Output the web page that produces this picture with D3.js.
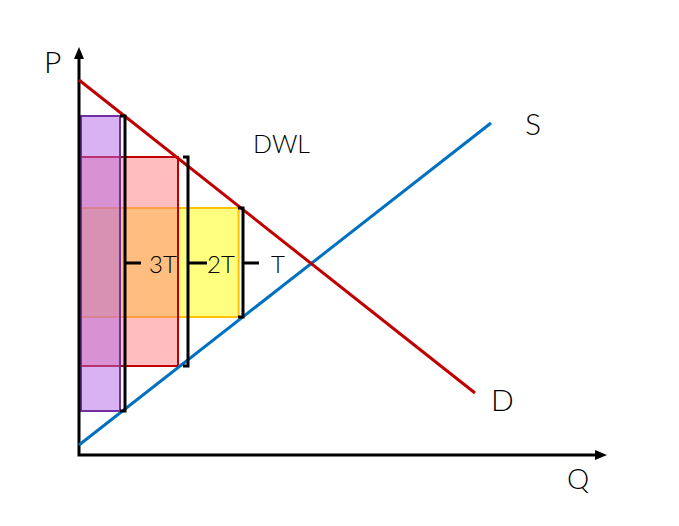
<!DOCTYPE html>
<html>
<head>
<meta charset="utf-8">
<script src="https://cdn.jsdelivr.net/npm/d3@7"></script>
<style>
  body { margin: 0; background: #fff; }
  text { font-family: Lato, 'Open Sans', sans-serif; font-weight: 300; fill: #000; }
</style>
</head>
<body>
<div id="chart"></div>
<script>
// supply and demand (P and Q in plain units)
const demandQ = [0, 9.9];
const demandP = [9.375, 1.55];
const supplyQ = [0, 10.3];
const supplyP = [0.25, 8.3];

// tax wedges, widest first so the narrow ones sit on top
const wedgeNames = ['T', '2T', '3T'];
const wedgeLeft = 0.05;
const wedgeRight = [3.99, 2.475, 1.025];
const wedgeTop = [6.175, 7.45, 8.475];
const wedgeBottom = [3.45, 2.225, 1.1];
const bracketQ = [4.1, 2.725, 1.15];
const tickEndQ = [4.5, 3.2, 1.55];
const labelQ = [4.8, 3.2, 1.75];
const tickP = 4.8;
const labelP = 4.55;

const axisTopP = 10.2;
const axisRightQ = 13.2;

const labels = [
  { text: 'P', q: -0.875, p: 9.55, size: 30 },
  { text: 'S', q: 11.15, p: 8.0, size: 30 },
  { text: 'D', q: 10.3, p: 1.1, size: 30 },
  { text: 'Q', q: 12.2, p: -0.85, size: 28 },
  { text: 'DWL', q: 4.35, p: 7.55, size: 25 },
];

const fills = ['#ffff00', '#ff7c80', '#b266e6'];
const strokes = ['#ffc000', '#c00000', '#7030a0'];

const width = 679;
const height = 526;

const x = d3.scaleLinear().domain([0, 1]).range([79, 119]);
const y = d3.scaleLinear().domain([0, 1]).range([455, 415]);

const svg = d3
  .select('#chart')
  .append('svg')
  .attr('width', width)
  .attr('height', height);

// rectangles
wedgeNames.forEach((name, i) => {
  svg
    .append('rect')
    .attr('x', x(wedgeLeft))
    .attr('y', y(wedgeTop[i]))
    .attr('width', x(wedgeRight[i]) - x(wedgeLeft))
    .attr('height', y(wedgeBottom[i]) - y(wedgeTop[i]))
    .attr('fill', fills[i])
    .attr('fill-opacity', 0.5)
    .attr('stroke', strokes[i])
    .attr('stroke-width', 2);
});

// axes
const arrowLen = 12;
const arrowHalf = 5;
svg
  .append('path')
  .attr('d', `M${x(0)},${y(axisTopP) + arrowLen} V${y(0)} H${x(axisRightQ) - arrowLen}`)
  .attr('fill', 'none')
  .attr('stroke', '#000')
  .attr('stroke-width', 3);

svg
  .append('path')
  .attr('d', `M${x(0)},${y(axisTopP)} L${x(0) - arrowHalf},${y(axisTopP) + arrowLen} L${x(0) + arrowHalf},${y(axisTopP) + arrowLen} Z`)
  .attr('fill', '#000');

svg
  .append('path')
  .attr('d', `M${x(axisRightQ)},${y(0)} L${x(axisRightQ) - arrowLen},${y(0) - arrowHalf} L${x(axisRightQ) - arrowLen},${y(0) + arrowHalf} Z`)
  .attr('fill', '#000');

// supply and demand
const line = d3
  .line()
  .x((d) => x(d[0]))
  .y((d) => y(d[1]));

svg
  .append('path')
  .datum(supplyQ.map((q, i) => [q, supplyP[i]]))
  .attr('fill', 'none')
  .attr('stroke', '#0070c0')
  .attr('stroke-width', 3)
  .attr('d', line);

svg
  .append('path')
  .datum(demandQ.map((q, i) => [q, demandP[i]]))
  .attr('fill', 'none')
  .attr('stroke', '#c00000')
  .attr('stroke-width', 3)
  .attr('d', line);

// brackets with their tax labels
const stub = 5;
wedgeNames.forEach((name, i) => {
  const bx = x(bracketQ[i]);
  svg
    .append('path')
    .attr('d', `M${bx - stub},${y(wedgeTop[i])} H${bx} V${y(wedgeBottom[i])} H${bx - stub} M${bx},${y(tickP)} H${x(tickEndQ[i])}`)
    .attr('fill', 'none')
    .attr('stroke', '#000')
    .attr('stroke-width', 3);

  svg
    .append('text')
    .attr('x', x(labelQ[i]))
    .attr('y', y(labelP))
    .style('font-size', '24px')
    .text(name);
});

labels.forEach((d) => {
  svg
    .append('text')
    .attr('x', x(d.q))
    .attr('y', y(d.p))
    .style('font-size', `${d.size}px`)
    .text(d.text);
});
</script>
</body>
</html>
